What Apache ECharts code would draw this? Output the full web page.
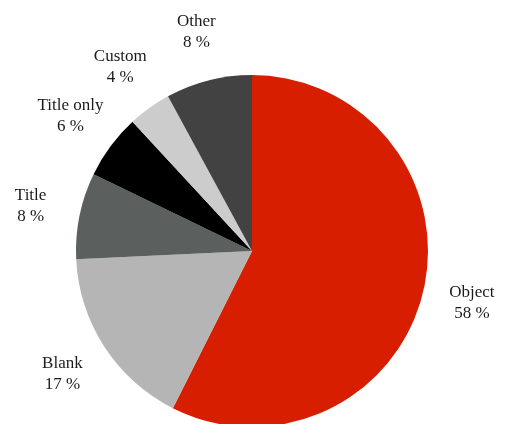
<!DOCTYPE html>
<html>
<head>
<meta charset="utf-8">
<style>
  html, body { margin: 0; padding: 0; background: #ffffff; }
  #chart { width: 508px; height: 424px; }
</style>
<script src="https://cdn.jsdelivr.net/npm/echarts@6/dist/echarts.min.js"></script>
</head>
<body>
<div id="chart"></div>
<script>
// Slide layouts and their share, in percent
const categories = ['Object', 'Blank', 'Title', 'Title only', 'Custom', 'Other'];
const shares = [58, 17, 8, 6, 4, 8];
const colors = ['#d81e00', '#b5b5b5', '#5b5f5d', '#000000', '#cccccc', '#424242'];

const center = [252, 251];
const pieData = categories.map((name, i) => ({ name, value: shares[i], itemStyle: { color: colors[i] } }));
// Same slices, transparent, used only to place centred labels on a ring around the pie
const labelData = categories.map((name, i) => ({ name, value: shares[i] }));

const chart = echarts.init(document.getElementById('chart'), null, { renderer: 'canvas' });
chart.setOption({
  animation: false,
  backgroundColor: '#ffffff',
  textStyle: { fontFamily: '"Liberation Serif", serif' },
  series: [
    {
      type: 'pie',
      center: center,
      radius: [0, 176],
      startAngle: 90,
      clockwise: true,
      label: { show: false },
      labelLine: { show: false },
      itemStyle: { borderWidth: 0 },
      emphasis: { disabled: true },
      silent: true,
      data: pieData
    },
    {
      type: 'pie',
      center: center,
      radius: [218, 228],
      startAngle: 90,
      clockwise: true,
      silent: true,
      emphasis: { disabled: true },
      itemStyle: { color: 'rgba(0,0,0,0)', borderWidth: 0 },
      labelLine: { show: false },
      label: {
        show: true,
        position: 'inside',
        formatter: '{b}\n{c} %',
        color: '#1a1a1a',
        fontSize: 17,
        lineHeight: 21,
        align: 'center',
        fontFamily: '"Liberation Serif", serif'
      },
      data: labelData
    }
  ]
});
</script>
</body>
</html>
